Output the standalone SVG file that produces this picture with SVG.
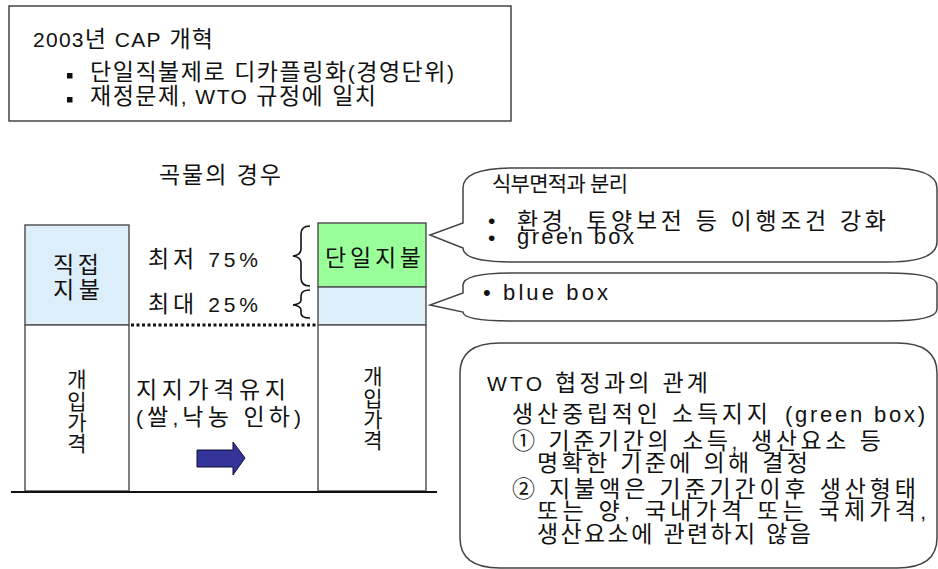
<svg xmlns="http://www.w3.org/2000/svg" width="938" height="569" viewBox="0 0 938 569">
<style>
text{font-family:"Liberation Sans","Noto Sans CJK KR",sans-serif;font-size:23px;fill:#111}
.l{font-size:21px}
.g{font-size:22px}
.v{font-size:21px}
.s{font-size:21px}
.box{stroke:#555;stroke-width:1.5}
.call{fill:#fff;stroke:#444;stroke-width:1.5}
.brace{fill:none;stroke:#111;stroke-width:1.6}
</style>
<rect width="938" height="569" fill="#fff"/>
<g id="header">
<rect x="9" y="6" width="502" height="115" fill="#fff" stroke="#444" stroke-width="1.5"/>
<text x="33" y="47" textLength="180" lengthAdjust="spacing"><tspan class="l">2003</tspan>년 <tspan class="l">CAP</tspan> 개혁</text>
<rect x="67" y="73" width="5.5" height="5.5" fill="#111"/>
<text x="90" y="80" textLength="364" lengthAdjust="spacing">단일직불제로 디카플링화<tspan class="l">(</tspan>경영단위<tspan class="l">)</tspan></text>
<rect x="67" y="97" width="5.5" height="5.5" fill="#111"/>
<text x="90" y="104" textLength="286" lengthAdjust="spacing">재정문제<tspan class="l">, WTO</tspan> 규정에 일치</text>
</g>
<g id="title"><text x="159" y="183" textLength="122" lengthAdjust="spacing">곡물의 경우</text></g>
<g id="left-bar">
<rect class="box" x="25" y="225" width="104" height="100" fill="#ddeefb"/>
<rect class="box" x="25" y="325" width="104" height="166" fill="#fff"/>
<text x="53" y="273" textLength="46" lengthAdjust="spacing">직접</text>
<text x="53" y="298" textLength="47" lengthAdjust="spacing">지불</text>
<text class="v" x="77" y="387" text-anchor="middle">개</text>
<text class="v" x="77" y="409" text-anchor="middle">입</text>
<text class="v" x="77" y="430" text-anchor="middle">가</text>
<text class="v" x="77" y="451" text-anchor="middle">격</text>
</g>
<g id="right-bar">
<rect class="box" x="318" y="223" width="108" height="64" fill="#99ff99"/>
<rect class="box" x="318" y="287" width="108" height="38" fill="#ddeefb"/>
<rect class="box" x="318" y="325" width="108" height="166" fill="#fff"/>
<text x="325" y="266" textLength="96" lengthAdjust="spacing">단일지불</text>
<text class="v" x="373" y="384" text-anchor="middle">개</text>
<text class="v" x="373" y="406" text-anchor="middle">입</text>
<text class="v" x="373" y="427" text-anchor="middle">가</text>
<text class="v" x="373" y="448" text-anchor="middle">격</text>
</g>
<g id="middle">
<text x="148" y="267" textLength="110" lengthAdjust="spacing">최저 <tspan class="l">75%</tspan></text>
<text x="148" y="312" textLength="110" lengthAdjust="spacing">최대 <tspan class="l">25%</tspan></text>
<text x="136" y="398" textLength="150" lengthAdjust="spacing">지지가격유지</text>
<text x="136" y="425" textLength="165" lengthAdjust="spacing"><tspan class="l">(</tspan>쌀<tspan class="l">,</tspan>낙농 인하<tspan class="l">)</tspan></text>
<path d="M197,450 H233 V442 L245,458 L233,475 V467 H197 Z" fill="#333399" stroke="#111133" stroke-width="1"/>
</g>
<g id="connectors">
<line x1="131" y1="325" x2="316" y2="325" stroke="#111" stroke-width="3" stroke-dasharray="3,2.5"/>
<line x1="11" y1="492" x2="437" y2="492" stroke="#111" stroke-width="2"/>
<path class="brace" d="M310,226 Q301,226 301,234 V249 Q301,255 293,256 Q301,257 301,263 V278 Q301,286 310,286"/>
<path class="brace" d="M310,290 Q301,290 301,296 V300 Q301,304 293,305 Q301,306 301,310 V313 Q301,318 310,318"/>
</g>
<g id="callout-green">
<path class="call" d="M513,168 H887 Q937,168 937,188 V242 Q937,262 887,262 H513 Q463,262 463,248 L430,235 L463,223 V188 Q463,168 513,168 Z"/>
<text class="s" x="492" y="191" textLength="136" lengthAdjust="spacing">식부면적과 분리</text>
<text class="l" x="488" y="228">•</text>
<text x="517" y="229" textLength="369" lengthAdjust="spacing">환경<tspan class="l">,</tspan> 토양보전 등 이행조건 강화</text>
<text class="l" x="488" y="245">•</text>
<text class="g" x="517" y="244" textLength="117" lengthAdjust="spacing">green box</text>
</g>
<g id="callout-blue">
<path class="call" d="M513,273 H887 Q937,273 937,285 V309 Q937,321 887,321 H513 Q463,321 463,312 L430,305 L463,293 V285 Q463,273 513,273 Z"/>
<text class="g" x="483" y="300" textLength="125" lengthAdjust="spacing">• blue box</text>
</g>
<g id="wto-box">
<path class="call" d="M500,343 H897 Q937,343 937,373 V538 Q937,568 897,568 H500 Q460,568 460,538 V373 Q460,343 500,343 Z"/>
<text x="487" y="391" textLength="221" lengthAdjust="spacing"><tspan class="l">WTO</tspan> 협정과의 관계</text>
<text x="512" y="422" textLength="256" lengthAdjust="spacing">생산중립적인 소득지지</text>
<text class="g" x="785" y="422" textLength="140" lengthAdjust="spacing">(green box)</text>
<text x="512" y="449" textLength="369" lengthAdjust="spacing">① 기준기간의 소득<tspan class="l">,</tspan> 생산요소 등</text>
<text x="537" y="471" textLength="271" lengthAdjust="spacing">명확한 기준에 의해 결정</text>
<text x="512" y="497" textLength="404" lengthAdjust="spacing">② 지불액은 기준기간이후 생산형태</text>
<text x="537" y="519" textLength="389" lengthAdjust="spacing">또는 양<tspan class="l">,</tspan> 국내가격 또는 국제가격<tspan class="l">,</tspan></text>
<text x="537" y="542" textLength="274" lengthAdjust="spacing">생산요소에 관련하지 않음</text>
</g>
</svg>
